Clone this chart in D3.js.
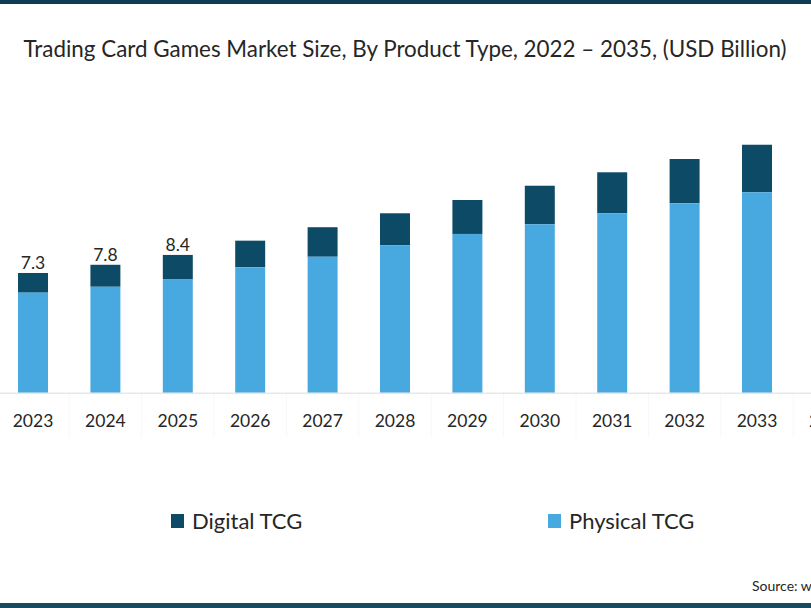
<!DOCTYPE html>
<html>
<head>
<meta charset="utf-8">
<script src="https://cdn.jsdelivr.net/npm/d3@7"></script>
<style>
  html, body { margin: 0; padding: 0; background: #fff; overflow: hidden; }
  text { font-family: Lato, "Noto Sans", sans-serif; fill: #262626; }
</style>
</head>
<body>
<div id="chart"></div>
<script>
// data (USD billion)
var years = ["2023", "2024", "2025", "2026", "2027", "2028", "2029", "2030", "2031", "2032", "2033", "2034"];
var physical = [6.10, 6.46, 6.93, 7.65, 8.29, 8.99, 9.68, 10.27, 10.94, 11.55, 12.22, 12.90];
var digital  = [1.20, 1.34, 1.47, 1.62, 1.80, 1.95, 2.07, 2.35, 2.50, 2.70, 2.90, 3.10];
var labelYears = ["2023", "2024", "2025"];
var labelValues = ["7.3", "7.8", "8.4"];
var seriesNames = ["Digital TCG", "Physical TCG"];
var seriesColors = ["#0c4a66", "#48a9e0"];

var width = 811;
var height = 608;
var baseY = 392.7;

var svg = d3.select("#chart")
	.append("svg")
	.attr("width", width)
	.attr("height", height);

// top and bottom bands
svg.append("rect").attr("x", 0).attr("y", 0).attr("width", width).attr("height", 4).attr("fill", "#0f3c52");
svg.append("rect").attr("x", 0).attr("y", 603).attr("width", width).attr("height", 5).attr("fill", "#174a5e");

svg.append("text")
	.attr("x", 405)
	.attr("y", 57)
	.attr("text-anchor", "middle")
	.style("font-size", "22.4px")
	.text("Trading Card Games Market Size, By Product Type, 2022 \u2013 2035, (USD Billion)");

var step = 72.4;
var xScale = d3.scaleBand()
	.domain(years)
	.range([33 - step / 2, 33 - step / 2 + step * years.length])
	.paddingInner(0.586)
	.paddingOuter(0.293);

var yScale = d3.scaleLinear()
	.domain([0, 20])
	.range([baseY, baseY - 16.4 * 20]);

var rows = years.map(function(y, i){
	return { year: y, physical: physical[i], digital: digital[i] };
});
var stack = d3.stack().keys(["digital", "physical"]).order(d3.stackOrderReverse);
var layers = stack(rows);

// very faint separators under the axis
svg.append("g")
	.selectAll("line")
	.data(years)
	.enter()
	.append("line")
	.attr("x1", function(d){ return xScale(d) - (step - xScale.bandwidth()) / 2; })
	.attr("x2", function(d){ return xScale(d) - (step - xScale.bandwidth()) / 2; })
	.attr("y1", baseY)
	.attr("y2", baseY + 45)
	.attr("stroke", "#f8f8f8");

svg.append("g")
	.selectAll("g")
	.data(layers)
	.enter()
	.append("g")
	.attr("fill", function(d){ return d.key == "digital" ? seriesColors[0] : seriesColors[1]; })
	.selectAll("rect")
	.data(function(d){ return d; })
	.enter()
	.append("rect")
	.attr("x", function(d){ return xScale(d.data.year); })
	.attr("y", function(d){ return yScale(d[1]); })
	.attr("width", xScale.bandwidth())
	.attr("height", function(d){ return yScale(d[0]) - yScale(d[1]); });

var xAxis = d3.axisBottom(xScale).tickSize(0).tickPadding(22);
var gx = svg.append("g")
	.attr("transform", "translate(0," + baseY + ")")
	.call(xAxis);
gx.select(".domain").attr("stroke", "#dcdcdc");
gx.selectAll("text")
	.style("font-size", "17.5px")
	.style("font-family", "Lato, sans-serif")
	.attr("fill", "#262626");

// value labels
svg.append("g")
	.selectAll("text")
	.data(labelYears)
	.enter()
	.append("text")
	.attr("x", function(d){ return xScale(d) + xScale.bandwidth() / 2; })
	.attr("y", function(d){
		var i = years.indexOf(d);
		return yScale(physical[i] + digital[i]) - 4;
	})
	.attr("text-anchor", "middle")
	.style("font-size", "17.5px")
	.text(function(d, i){ return labelValues[i]; });

// legend
var legendX = [171, 548];
var lg = svg.append("g")
	.selectAll("g")
	.data(seriesNames)
	.enter()
	.append("g")
	.attr("transform", function(d, i){ return "translate(" + legendX[i] + ",514)"; });
lg.append("rect")
	.attr("width", 13)
	.attr("height", 14)
	.attr("fill", function(d, i){ return seriesColors[i]; });
lg.append("text")
	.attr("x", 21)
	.attr("y", 15)
	.style("font-size", "22px")
	.text(function(d){ return d; });

svg.append("text")
	.attr("x", 752)
	.attr("y", 591)
	.style("font-size", "14px")
	.text("Source: www.wiseguyreports.com");
</script>
</body>
</html>
